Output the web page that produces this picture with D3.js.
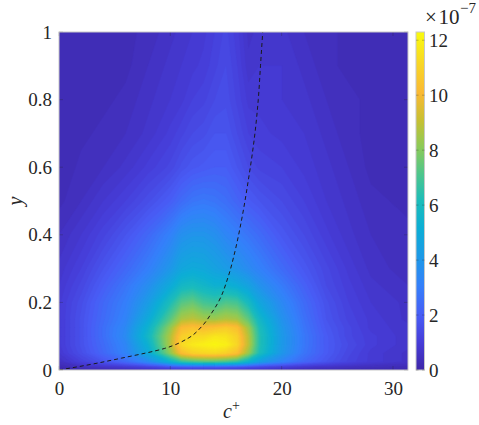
<!DOCTYPE html>
<html>
<head>
<meta charset="utf-8">
<style>
  body { margin: 0; background: #fff; }
  text { font-family: "Liberation Serif", "DejaVu Serif", serif; fill: #262626; }
</style>
</head>
<body>
<svg id="chart" width="479" height="425"></svg>
<script src="https://d3js.org/d3.v7.min.js"></script>
<script>
// grid columns (c+) and rows (y)
const cPlus = [0, 2, 4, 6, 8, 10, 11, 12, 13, 14, 15, 16, 17, 18, 20, 22, 24, 26, 28, 31.35];
const yRows = [0, 0.01, 0.025, 0.05, 0.075, 0.1, 0.125, 0.15, 0.2, 0.25, 0.3, 0.4, 0.5, 0.6, 0.7, 0.8, 0.9, 1];

// field values, x 1e-7, one line per y row (bottom to top)
const row000 = [0.1, 0.2, 0.3, 0.4, 0.5, 0.6, 0.6, 0.6, 0.6, 0.6, 0.6, 0.6, 0.5, 0.5, 0.4, 0.3, 0.3, 0.2, 0.2, 0.2];
const row001 = [0.3, 0.6, 0.8, 1.0, 1.3, 1.8, 2.0, 2.1, 2.1, 2.1, 2.0, 1.9, 1.7, 1.5, 1.2, 0.9, 0.7, 0.6, 0.5, 0.4];
const row0025 = [0.6, 1.2, 1.8, 2.5, 3.6, 5.5, 6.6, 7.0, 7.2, 7.2, 7.0, 6.6, 5.6, 4.5, 3.3, 2.4, 1.8, 1.3, 1.0, 0.7];
const row005 = [0.9, 1.6, 2.4, 3.3, 5.0, 8.2, 10.3, 11.0, 11.2, 11.3, 11.0, 10.4, 8.4, 6.2, 4.1, 2.8, 2.0, 1.4, 1.0, 0.7];
const row0075 = [1.0, 1.7, 2.5, 3.4, 5.4, 8.8, 11.3, 11.8, 12.0, 12.2, 12.0, 11.2, 9.0, 6.4, 4.2, 2.9, 2.0, 1.5, 1.1, 0.8];
const row010 = [1.0, 1.7, 2.6, 3.6, 5.8, 8.8, 10.9, 11.3, 11.3, 11.7, 11.6, 11.0, 8.9, 6.4, 4.2, 2.9, 2.0, 1.4, 1.1, 0.8];
const row0125 = [1.0, 1.7, 2.6, 3.5, 5.5, 8.3, 10.2, 10.5, 10.3, 10.5, 10.8, 10.4, 8.5, 6.2, 4.1, 2.8, 1.9, 1.4, 1.0, 0.8];
const row015 = [1.0, 1.7, 2.5, 3.3, 5.0, 7.4, 8.7, 9.0, 8.6, 8.5, 8.8, 8.6, 7.5, 5.8, 3.9, 2.7, 1.8, 1.3, 1.0, 0.7];
const row020 = [1.0, 1.6, 2.4, 3.1, 4.3, 6.2, 7.3, 7.6, 7.0, 6.8, 7.2, 7.0, 6.0, 4.8, 3.5, 2.5, 1.7, 1.2, 0.9, 0.7];
const row025 = [0.9, 1.4, 2.1, 2.8, 3.7, 5.0, 5.8, 6.0, 5.7, 5.4, 5.4, 5.1, 4.6, 3.9, 3.0, 2.2, 1.5, 1.1, 0.8, 0.6];
const row030 = [0.8, 1.2, 1.8, 2.4, 3.1, 4.1, 4.8, 5.0, 4.9, 4.6, 4.3, 4.0, 3.6, 3.2, 2.5, 1.9, 1.4, 1.0, 0.7, 0.5];
const row040 = [0.6, 0.9, 1.3, 1.8, 2.4, 3.2, 3.8, 4.0, 4.0, 3.8, 3.4, 3.1, 2.8, 2.5, 1.9, 1.5, 1.1, 0.8, 0.6, 0.5];
const row050 = [0.4, 0.6, 0.9, 1.2, 1.6, 2.1, 2.5, 2.8, 2.9, 2.8, 2.6, 2.3, 2.0, 1.8, 1.5, 1.2, 0.9, 0.7, 0.5, 0.4];
const row060 = [0.3, 0.5, 0.6, 0.8, 1.1, 1.4, 1.7, 1.9, 2.0, 2.1, 2.1, 1.8, 1.5, 1.3, 1.2, 1.0, 0.8, 0.6, 0.4, 0.4];
const row070 = [0.3, 0.4, 0.5, 0.6, 0.8, 1.1, 1.3, 1.5, 1.6, 1.8, 1.8, 1.5, 1.2, 1.1, 1.0, 0.9, 0.7, 0.5, 0.4, 0.3];
const row080 = [0.3, 0.3, 0.4, 0.5, 0.7, 0.9, 1.0, 1.2, 1.3, 1.5, 1.6, 1.3, 1.0, 1.0, 0.9, 0.8, 0.6, 0.5, 0.4, 0.3];
const row090 = [0.3, 0.3, 0.4, 0.4, 0.6, 0.8, 0.9, 1.0, 1.1, 1.3, 1.5, 1.2, 0.8, 0.9, 0.9, 0.7, 0.5, 0.4, 0.3, 0.3];
const row100 = [0.3, 0.3, 0.3, 0.4, 0.5, 0.7, 0.8, 0.9, 1.0, 1.2, 1.4, 1.1, 0.7, 0.8, 0.8, 0.6, 0.5, 0.4, 0.3, 0.3];
const rows = [row000, row001, row0025, row005, row0075, row010, row0125, row015, row020, row025,
              row030, row040, row050, row060, row070, row080, row090, row100];

// dashed curve
const dashY = [0, 0.015, 0.035, 0.064, 0.094, 0.128, 0.168, 0.2, 0.276, 0.35, 0.444, 0.56, 0.7, 0.8, 0.9, 1.0];
const dashC = [0, 2.6, 5.6, 9.5, 11.6, 12.8, 13.7, 14.3, 15.2, 15.8, 16.4, 17.0, 17.6, 17.9, 18.1, 18.3];

const xTicks = [0, 10, 20, 30];
const yTicks = [0, 0.2, 0.4, 0.6, 0.8, 1];
const cbTicks = [0, 2, 4, 6, 8, 10, 12];
const cMax = 12.3;

// parula-like colormap stops
const cmapPos = [0, 0.08, 0.16, 0.25, 0.33, 0.42, 0.5, 0.58, 0.66, 0.74, 0.82, 0.9, 1];
const cmapCol = ["#3e26a8", "#463cd7", "#485cf5", "#3480fa", "#1e98e8", "#0caed5", "#1cbcba",
                 "#4ec68c", "#8cca58", "#c8c032", "#fab934", "#f8d428", "#f9fb0e"];

const svg = d3.select("#chart");
const pL = 59, pR = 408, pT = 32, pB = 370;

const x = d3.scaleLinear().domain([0, 31.35]).range([pL, pR]);
const y = d3.scaleLinear().domain([0, 1]).range([pB, pT]);
const color = d3.scaleLinear()
    .domain(cmapPos.map(p => p * cMax))
    .range(cmapCol)
    .clamp(true);

// contour field
const n = cPlus.length, m = yRows.length;
const values = [];
rows.forEach(r => r.forEach(v => values.push(v)));

const gx = d3.scaleLinear().domain(d3.range(n)).range(cPlus).clamp(true);
const gy = d3.scaleLinear().domain(d3.range(m)).range(yRows).clamp(true);

const levels = d3.range(0, cMax, 0.15);
const contours = d3.contours().size([n, m]).thresholds(levels)(values);

const proj = d3.geoTransform({
    point: function(px, py) {
        this.stream.point(x(gx(px - 0.5)), y(gy(py - 0.5)));
    }
});
const path = d3.geoPath(proj);

svg.append("clipPath").attr("id", "plotClip")
    .append("rect")
    .attr("x", pL).attr("y", pT)
    .attr("width", pR - pL).attr("height", pB - pT);

const body = svg.append("g").attr("clip-path", "url(#plotClip)");
body.append("rect")
    .attr("x", pL).attr("y", pT)
    .attr("width", pR - pL).attr("height", pB - pT)
    .attr("fill", color(0));
body.selectAll("path.band").data(contours)
    .enter()
    .append("path")
    .attr("class", "band")
    .attr("d", path)
    .attr("fill", d => color(d.value))
    .attr("stroke", d => color(d.value))
    .attr("stroke-width", 0.4);

// dashed line
const dashLine = d3.line()
    .x((d, i) => x(dashC[i]))
    .y(d => y(d))
    .curve(d3.curveMonotoneY);
body.append("path")
    .attr("d", dashLine(dashY))
    .attr("fill", "none")
    .attr("stroke", "#1a1a1a")
    .attr("stroke-width", 1)
    .attr("stroke-dasharray", "4,3");

// axes
const tickCol = "#262626";
const xAxis = d3.axisBottom(x).tickValues(xTicks).tickSize(0).tickPadding(12);
const yAxis = d3.axisLeft(y).tickValues(yTicks).tickSize(0).tickPadding(7).tickFormat(d3.format("~g"));
svg.append("g").attr("transform", `translate(0, ${pB})`).call(xAxis);
svg.append("g").attr("transform", `translate(${pL}, 0)`).call(yAxis);
svg.selectAll(".domain").remove();
svg.selectAll(".tick text").attr("font-size", 19).attr("fill", tickCol)
    .attr("font-family", "Liberation Serif");

// inward tick marks on all sides
const tl = 4;
const marks = svg.append("g").attr("stroke", tickCol).attr("stroke-opacity", 0.45).attr("stroke-width", 0.6);
xTicks.forEach(t => {
    marks.append("line").attr("x1", x(t)).attr("x2", x(t)).attr("y1", pB).attr("y2", pB - tl);
    marks.append("line").attr("x1", x(t)).attr("x2", x(t)).attr("y1", pT).attr("y2", pT + tl);
});
yTicks.forEach(t => {
    marks.append("line").attr("x1", pL).attr("x2", pL + tl).attr("y1", y(t)).attr("y2", y(t));
    marks.append("line").attr("x1", pR).attr("x2", pR - tl).attr("y1", y(t)).attr("y2", y(t));
});
svg.append("rect")
    .attr("x", pL).attr("y", pT)
    .attr("width", pR - pL).attr("height", pB - pT)
    .attr("fill", "none").attr("stroke", "#c8c8c8").attr("stroke-width", 1);

// axis labels
svg.append("text")
    .attr("x", 223).attr("y", 418)
    .attr("font-size", 20).attr("font-style", "italic")
    .text("c")
    .append("tspan").attr("font-style", "normal").attr("font-size", 14).attr("dy", -8).text("+");
svg.append("text")
    .attr("transform", "translate(22, 201) rotate(-90)")
    .attr("text-anchor", "middle")
    .attr("font-size", 20).attr("font-style", "italic")
    .text("y");

// colorbar
const cbL = 416, cbW = 8.5;
const cy = d3.scaleLinear().domain([0, cMax]).range([pB, pT]);
const grad = svg.append("defs").append("linearGradient")
    .attr("id", "cbGrad").attr("x1", 0).attr("y1", 1).attr("x2", 0).attr("y2", 0);
grad.selectAll("stop").data(cmapPos).enter().append("stop")
    .attr("offset", d => d)
    .attr("stop-color", (d, i) => cmapCol[i]);
svg.append("rect")
    .attr("x", cbL).attr("y", pT)
    .attr("width", cbW).attr("height", pB - pT)
    .attr("fill", "url(#cbGrad)")
    .attr("stroke", "#c8c8c8").attr("stroke-width", 1);
const cbMarks = svg.append("g").attr("stroke", tickCol).attr("stroke-opacity", 0.45).attr("stroke-width", 0.6);
cbTicks.forEach(t => {
    cbMarks.append("line").attr("x1", cbL).attr("x2", cbL + 2.5).attr("y1", cy(t)).attr("y2", cy(t));
    cbMarks.append("line").attr("x1", cbL + cbW).attr("x2", cbL + cbW - 2.5).attr("y1", cy(t)).attr("y2", cy(t));
});
svg.append("g").selectAll("text").data(cbTicks).enter().append("text")
    .attr("x", 429).attr("y", d => cy(d))
    .attr("dy", "0.35em")
    .attr("font-size", 19)
    .text(d => d);

// colorbar exponent
svg.append("text").attr("x", 425).attr("y", 24)
    .attr("font-size", 21)
    .text("\u00d7\u200a10");
svg.append("text").attr("x", 460).attr("y", 13)
    .attr("font-size", 15)
    .text("\u22127");
</script>
</body>
</html>
